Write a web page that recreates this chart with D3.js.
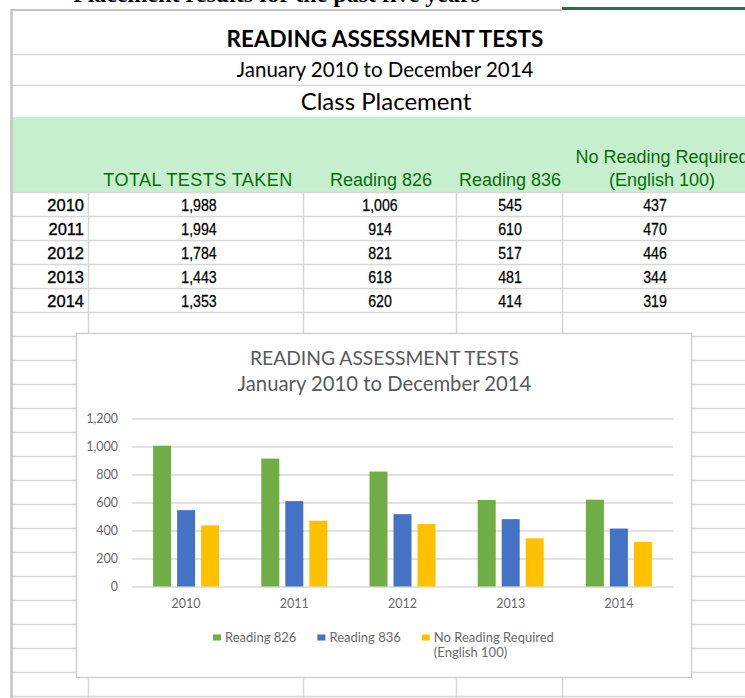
<!DOCTYPE html>
<html>
<head>
<meta charset="utf-8">
<script src="https://cdn.jsdelivr.net/npm/d3@7"></script>
<style>
  html, body { margin: 0; padding: 0; background: #fff; }
  svg { display: block; }
</style>
</head>
<body>
<svg id="chart" width="745" height="698"></svg>
<script>
// ---------- DATA ----------
const years = ["2010", "2011", "2012", "2013", "2014"];
const totalTests = [1988, 1994, 1784, 1443, 1353];
const reading826 = [1006, 914, 821, 618, 620];
const reading836 = [545, 610, 517, 481, 414];
const noReading = [437, 470, 446, 344, 319];
const seriesNames = ["Reading 826", "Reading 836", "No Reading Required (English 100)"];
const tableHeaders = ["TOTAL TESTS TAKEN", "Reading 826", "Reading 836", "No Reading Required (English 100)"];
const yTicks = [0, 200, 400, 600, 800, 1000, 1200];
const sheetTitle = "READING ASSESSMENT TESTS";
const sheetSubtitle = "January 2010 to December 2014";
const sheetSection = "Class Placement";

// ---------- STYLE ----------
const colors = ["#70AD47", "#4472C4", "#FFC000"];
const gridGray = "#d6d6d6";
const chartFont = "Lato, 'Open Sans', sans-serif";
const sheetFont = "'Liberation Sans', Arial, sans-serif";

const svg = d3.select("#chart");
const W = 745, H = 698;

// ---------- SPREADSHEET BACKGROUND ----------
// cropped document text at the top (cut off in the original screenshot too)
svg.append("text")
  .attr("x", 480).attr("y", 2)
  .attr("text-anchor", "end")
  .attr("font-family", "'Liberation Serif', 'Times New Roman', serif")
  .attr("font-weight", "bold").attr("font-size", 24)
  .attr("fill", "#000")
  .text("Placement results for the past five years");

// header green fill
svg.append("rect").attr("x", 12).attr("y", 117).attr("width", W - 12).attr("height", 75)
  .attr("fill", "#C6EFCE");

// top border lines
svg.append("line").attr("x1", 11).attr("x2", 562).attr("y1", 10).attr("y2", 10)
  .attr("stroke", "#c4c4c4").attr("stroke-width", 2);
svg.append("line").attr("x1", 562).attr("x2", W).attr("y1", 8.5).attr("y2", 8.5)
  .attr("stroke", "#217346").attr("stroke-width", 3);

// horizontal row lines
const rowLines = [54, 85];
for (let y = 192; y <= H; y += 24) rowLines.push(y);
svg.append("g").selectAll("line").data(rowLines).join("line")
  .attr("x1", 12).attr("x2", W)
  .attr("y1", d => d + 0.5).attr("y2", d => d + 0.5)
  .attr("stroke", gridGray).attr("stroke-width", 1.5);

// vertical column lines (below header)
const colLines = [88, 303, 456, 562];
svg.append("g").selectAll("line").data(colLines).join("line")
  .attr("x1", d => d + 0.5).attr("x2", d => d + 0.5)
  .attr("y1", 192).attr("y2", H)
  .attr("stroke", gridGray).attr("stroke-width", 1.5);

// left border
svg.append("line").attr("x1", 11.5).attr("x2", 11.5).attr("y1", 9).attr("y2", H)
  .attr("stroke", "#c4c4c4").attr("stroke-width", 2.5);

// sheet titles
const centerX = 385;
svg.append("text").attr("x", centerX).attr("y", 47).attr("text-anchor", "middle")
  .attr("font-family", chartFont).attr("font-weight", "bold").attr("font-size", 22.5)
  .attr("fill", "#000").text(sheetTitle);
svg.append("text").attr("x", centerX).attr("y", 77).attr("text-anchor", "middle")
  .attr("font-family", chartFont).attr("font-size", 20.5)
  .attr("fill", "#000").text(sheetSubtitle);
svg.append("text").attr("x", centerX + 1).attr("y", 110).attr("text-anchor", "middle")
  .attr("font-family", chartFont).attr("font-size", 24)
  .attr("fill", "#000").text(sheetSection);

// table headers
const colCenters = [198, 381, 510, 662];
const headerG = svg.append("g").attr("font-family", sheetFont).attr("font-size", 18)
  .attr("fill", "#0b6b0b").attr("text-anchor", "middle");
tableHeaders.forEach((h, i) => {
  const parts = h.split(" (");
  if (parts.length > 1) {
    headerG.append("text").attr("x", colCenters[i]).attr("y", 163).text(parts[0]);
    headerG.append("text").attr("x", colCenters[i]).attr("y", 186).text("(" + parts[1]);
  } else {
    headerG.append("text").attr("x", colCenters[i]).attr("y", 186)
      .attr("letter-spacing", i === 0 ? 0.45 : 0).text(h);
  }
});

// table body
const fmt = d3.format(",");
const tableCols = [totalTests, reading826, reading836, noReading];
const valCenters = [199, 380, 510, 655];
const bodyG = svg.append("g").attr("font-family", sheetFont).attr("fill", "#000");
years.forEach((yr, r) => {
  const base = 192 + 24 * r + 18.5;
  bodyG.append("text").attr("x", 84).attr("y", base).attr("text-anchor", "end")
    .attr("font-size", 16.5).attr("stroke", "#000").attr("stroke-width", 0.35).text(yr);
  tableCols.forEach((col, c) => {
    bodyG.append("text")
      .attr("transform", `translate(${valCenters[c]},${base}) scale(0.86,1)`)
      .attr("text-anchor", "middle")
      .attr("font-size", 16.5).attr("stroke", "#000").attr("stroke-width", 0.25)
      .text(fmt(col[r]));
  });
});

// ---------- CHART ----------
const box = { x: 76, y: 333, w: 615, h: 344 };
svg.append("rect")
  .attr("x", box.x + 0.5).attr("y", box.y + 0.5)
  .attr("width", box.w).attr("height", box.h)
  .attr("fill", "#fff").attr("stroke", "#d0d0d0").attr("stroke-width", 1.5);

const chartCX = 384.5;
svg.append("text").attr("x", chartCX).attr("y", 365).attr("text-anchor", "middle")
  .attr("font-family", chartFont).attr("font-size", 19.3).attr("fill", "#595959")
  .text(sheetTitle);
svg.append("text").attr("x", chartCX).attr("y", 391).attr("text-anchor", "middle")
  .attr("font-family", chartFont).attr("font-size", 20.3).attr("fill", "#595959")
  .text(sheetSubtitle);

const plot = { left: 132, right: 673, top: 418.5, bottom: 586.5 };
const y = d3.scaleLinear().domain([0, 1200]).range([plot.bottom, plot.top]);
const x0 = d3.scaleBand().domain(years).range([plot.left, plot.right])
  .paddingInner(0.39).paddingOuter(0.195);
const x1 = d3.scaleBand().domain(seriesNames).range([0, x0.bandwidth()]).paddingInner(0.25);

// y axis with gridlines
const yAxis = svg.append("g").attr("transform", `translate(${plot.left},0)`)
  .call(d3.axisLeft(y).tickValues(yTicks).tickFormat(fmt)
    .tickSizeInner(-(plot.right - plot.left)).tickSizeOuter(0).tickPadding(14));
yAxis.select(".domain").remove();
yAxis.selectAll(".tick line").attr("stroke", "#d9d9d9").attr("stroke-width", 1.3);
yAxis.selectAll(".tick text").attr("font-family", chartFont).attr("font-size", 12.5)
  .attr("fill", "#6a6a6a");

// x axis
const xAxis = svg.append("g").attr("transform", `translate(0,${plot.bottom})`)
  .call(d3.axisBottom(x0).tickSize(0).tickPadding(13));
xAxis.select(".domain").remove();
xAxis.selectAll(".tick text").attr("font-family", chartFont).attr("font-size", 12.5)
  .attr("fill", "#6a6a6a");

// bars
const seriesValues = [reading826, reading836, noReading];
const rows = years.map((yr, i) => ({ year: yr, vals: seriesNames.map((s, k) => ({ s, k, v: seriesValues[k][i] })) }));
svg.append("g").selectAll("g").data(rows).join("g")
  .attr("transform", d => `translate(${x0(d.year)},0)`)
  .selectAll("rect").data(d => d.vals).join("rect")
  .attr("x", d => x1(d.s))
  .attr("y", d => y(d.v))
  .attr("width", x1.bandwidth())
  .attr("height", d => y(0) - y(d.v))
  .attr("fill", d => colors[d.k]);

// legend
const legend = svg.append("g").attr("font-family", chartFont).attr("font-size", 13).attr("fill", "#6a6a6a");
let lx = 213;
seriesNames.forEach((s, k) => {
  legend.append("rect").attr("x", lx).attr("y", 634.5).attr("width", 8).attr("height", 6)
    .attr("fill", colors[k]);
  const parts = s.split(" (");
  const t = legend.append("text").attr("x", lx + 12).attr("y", 641.5).text(parts[0]);
  if (parts.length > 1) {
    legend.append("text").attr("x", lx + 12).attr("y", 657).text("(" + parts[1]);
  }
  lx = lx + 12 + t.node().getComputedTextLength() + 21;
});
</script>
</body>
</html>
